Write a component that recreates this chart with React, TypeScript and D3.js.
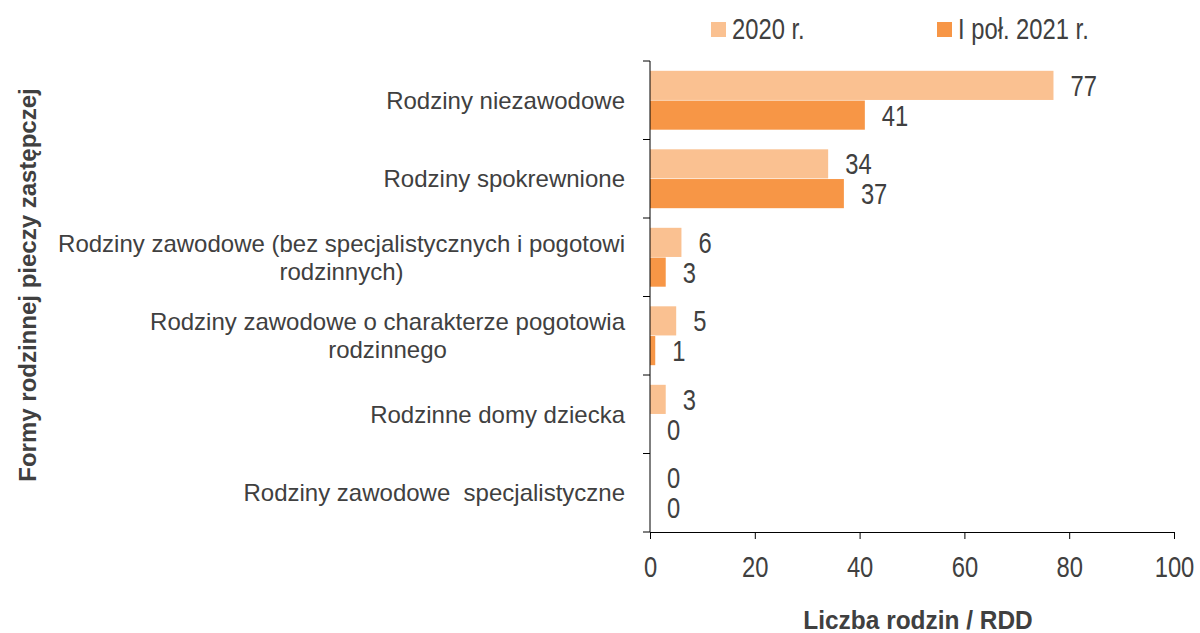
import React, { useEffect, useRef } from "react";
import * as d3 from "d3";

const categories = [
  ["Rodziny niezawodowe"],
  ["Rodziny spokrewnione"],
  ["Rodziny zawodowe (bez specjalistycznych i pogotowi", "rodzinnych)"],
  ["Rodziny zawodowe o charakterze pogotowia", "rodzinnego"],
  ["Rodzinne domy dziecka"],
  ["Rodziny zawodowe  specjalistyczne"],
];
const series2020 = [77, 34, 6, 5, 3, 0];
const series2021 = [41, 37, 3, 1, 0, 0];
const seriesNames = ["2020 r.", "I poł. 2021 r."];
const seriesColors = ["#FAC191", "#F79646"];
const xTicks = [0, 20, 40, 60, 80, 100];

const W = 1200;
const H = 633;
const SANS = "'Liberation Sans', Arial, sans-serif";
const NARROW_SCALE = 0.82;

export default function App() {
  const ref = useRef<SVGSVGElement>(null);
  useEffect(() => {
    const svg = d3.select(ref.current);
    svg.selectAll("*").remove();
    const left = 650, right = 1174, top = 61, bottom = 532;
    const x = d3.scaleLinear().domain([0, 100]).range([left, right]);
    const y = d3.scaleBand<number>().domain(d3.range(categories.length)).range([top, bottom]);
    const inner = d3.scaleBand<number>().domain([0, 1]).range([0, y.bandwidth()]).paddingOuter(0.33).paddingInner(0.02);
    const textColor = "#404040";

    const narrowText = (g: any, tx: number, ty: number, txt: string, size: number) =>
      g.append("text")
        .attr("transform", `translate(${tx},${ty}) scale(${NARROW_SCALE},1)`)
        .attr("font-family", SANS)
        .attr("font-size", size)
        .attr("fill", textColor)
        .text(txt);

    // bars
    const data = [series2020, series2021];
    data.forEach((s, si) => {
      const g = svg.append("g");
      g.selectAll("rect").data(s).join("rect")
        .attr("x", x(0))
        .attr("y", (_, i) => (y(i) as number) + (inner(si) as number))
        .attr("width", (d) => x(d) - x(0))
        .attr("height", inner.bandwidth())
        .attr("fill", seriesColors[si]);
      s.forEach((d, i) => {
        const cy = (y(i) as number) + (inner(si) as number) + inner.bandwidth() / 2;
        narrowText(g, x(d) + 17, cy, String(d), 29).attr("dy", "0.36em");
      });
    });

    // axes
    const xAxis = svg.append("g").attr("transform", `translate(0,${bottom})`)
      .call(d3.axisBottom(x).tickValues(xTicks).tickSize(7).tickSizeOuter(0).tickPadding(14));
    xAxis.select(".domain").attr("stroke", "#000");
    xAxis.selectAll(".tick line").attr("stroke", "#000");
    xAxis.selectAll("text")
      .attr("font-family", SANS).attr("font-size", 29).attr("fill", textColor)
      .attr("y", 45).attr("dy", null)
      .attr("transform", `scale(${NARROW_SCALE},1)`);

    const yBounds = d3.range(categories.length + 1).map((i) => top + i * y.step());
    svg.append("line").attr("x1", left).attr("x2", left).attr("y1", top).attr("y2", bottom).attr("stroke", "#000");
    svg.append("g").selectAll("line").data(yBounds).join("line")
      .attr("x1", left - 7).attr("x2", left).attr("y1", (d) => d).attr("y2", (d) => d).attr("stroke", "#000");

    // category labels
    categories.forEach((lines, i) => {
      const cy = (y(i) as number) + y.bandwidth() / 2;
      const g = svg.append("g");
      const lh = 28;
      const texts = lines.map((ln, li) =>
        g.append("text")
          .attr("y", cy + (li - (lines.length - 1) / 2) * lh)
          .attr("dy", "0.36em")
          .attr("font-family", SANS)
          .attr("font-size", 24)
          .attr("fill", textColor)
          .attr("text-anchor", "middle")
          .style("white-space", "pre")
          .text(ln)
      );
      const widths = texts.map((t) => (t.node() as SVGTextElement).getComputedTextLength());
      const maxW = Math.max(...widths);
      texts.forEach((t) => t.attr("x", 625 - maxW / 2));
    });

    // axis titles
    svg.append("text")
      .attr("transform", `translate(918,629) scale(0.94,1)`)
      .attr("text-anchor", "middle").attr("font-family", SANS).attr("font-weight", "bold")
      .attr("font-size", 26).attr("fill", textColor).text("Liczba rodzin / RDD");
    svg.append("text").attr("transform", `translate(36,285) rotate(-90)`)
      .attr("text-anchor", "middle").attr("font-family", SANS).attr("font-weight", "bold")
      .attr("font-size", 24).attr("fill", textColor).text("Formy rodzinnej pieczy zastępczej");

    // legend
    const legendX = [711, 937];
    seriesNames.forEach((n, i) => {
      svg.append("rect").attr("x", legendX[i]).attr("y", 22).attr("width", 15).attr("height", 15).attr("fill", seriesColors[i]);
      narrowText(svg, legendX[i] + 21, 39, n, 29);
    });
  }, []);
  return (
    <svg ref={ref} width={W} height={H} style={{ position: "absolute", left: 0, top: 0, background: "#fff" }} />
  );
}
